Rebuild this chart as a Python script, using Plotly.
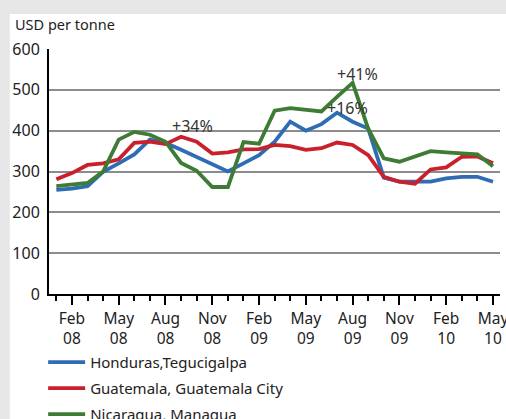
import plotly.graph_objects as go

# Month index: 0 = Jan 2008 ... 28 = May 2010
months = list(range(29))
tick_vals = [1, 4, 7, 10, 13, 16, 19, 22, 25, 28]
tick_text = ["Feb<br>08", "May<br>08", "Aug<br>08", "Nov<br>08", "Feb<br>09",
             "May<br>09", "Aug<br>09", "Nov<br>09", "Feb<br>10", "May<br>10"]

honduras = [255, 258, 264, 299, 320, 342, 378, 370, 353, 336, 318, 300, 320, 340, 373,
            422, 400, 416, 444, 422, 405, 285, 275, 275, 275, 283, 287, 287, 275]
guatemala = [281, 296, 316, 320, 330, 370, 373, 367, 385, 373, 344, 347, 354, 355, 365,
             362, 353, 357, 371, 365, 340, 287, 275, 270, 305, 310, 336, 337, 320]
nicaragua = [264, 267, 272, 300, 378, 397, 390, 373, 321, 302, 262, 262, 372, 368, 449,
             455, 451, 447, 483, 517, 405, 332, 324, 336, 350, 347, 345, 342, 313]

series_names = ["Honduras,Tegucigalpa", "Guatemala, Guatemala City", "Nicaragua, Managua"]
colors = ["#2e6db4", "#c9202c", "#3e7b35"]

notes_text = ["+34%", "+41%", "+16%"]
notes_x = [8.7, 19.3, 18.7]
notes_y = [411, 539, 455]

FONT = "Noto Sans"

fig = go.Figure()
for i, (name, vals, col) in enumerate(zip(series_names, [honduras, guatemala, nicaragua], colors)):
    fig.add_trace(go.Scatter(x=months, y=vals, name=name, mode="lines", legendgroup=f"g{i}",
                             line=dict(color=col, width=3.8)))

for t, x, y in zip(notes_text, notes_x, notes_y):
    fig.add_annotation(x=x, y=y, text=t, showarrow=False,
                       font=dict(family=FONT, size=16, color="#333333"))

fig.add_annotation(xref="paper", yref="paper", x=-0.08, y=1.102, text="USD per tonne",
                   showarrow=False, xanchor="left", yanchor="middle",
                   font=dict(family=FONT, size=14.5, color="#222222"))

# white panel on a light grey page
fig.add_shape(type="rect", xref="paper", yref="paper", x0=-0.087, x1=1.2, y0=-0.7, y1=1.143,
              fillcolor="white", line=dict(width=0), layer="below")

fig.update_layout(
    width=506, height=419,
    margin=dict(l=49, r=6, t=49, b=125, autoexpand=False),
    paper_bgcolor="#e6e6e6",
    plot_bgcolor="white",
    font=dict(family=FONT, size=16, color="#222222"),
    showlegend=True,
    hovermode=False,
    legend=dict(x=-0.013, y=-0.212, xanchor="left", yanchor="top",
                bgcolor="rgba(0,0,0,0)", font=dict(family=FONT, size=15, color="#222222"),
                tracegroupgap=3.5, itemwidth=37),
)
fig.update_xaxes(range=[-0.47, 28.45], tickmode="array", tickvals=tick_vals, ticktext=tick_text,
                 showline=True, linecolor="black", linewidth=2, showgrid=False,
                 ticks="outside", ticklen=9, tickwidth=2, tickcolor="black",
                 ticklabeloverflow="allow",
                 minor=dict(tickmode="array", tickvals=months, ticks="outside", ticklen=5,
                            tickwidth=2, tickcolor="black", showgrid=False),
                 tickfont=dict(family=FONT, size=15.5, color="#222222"), zeroline=False)
fig.update_yaxes(range=[0, 600], dtick=100, showline=True, linecolor="black", linewidth=2,
                 showgrid=True, gridcolor="#8c8c8c", gridwidth=1.5, ticks="",
                 zeroline=False, tickfont=dict(family=FONT, size=16, color="#222222"),
                 ticklabelstandoff=4)

fig.write_html("out.html", config={"displayModeBar": False},
               post_script="document.body.style.margin='0';document.body.style.overflow='hidden';")
